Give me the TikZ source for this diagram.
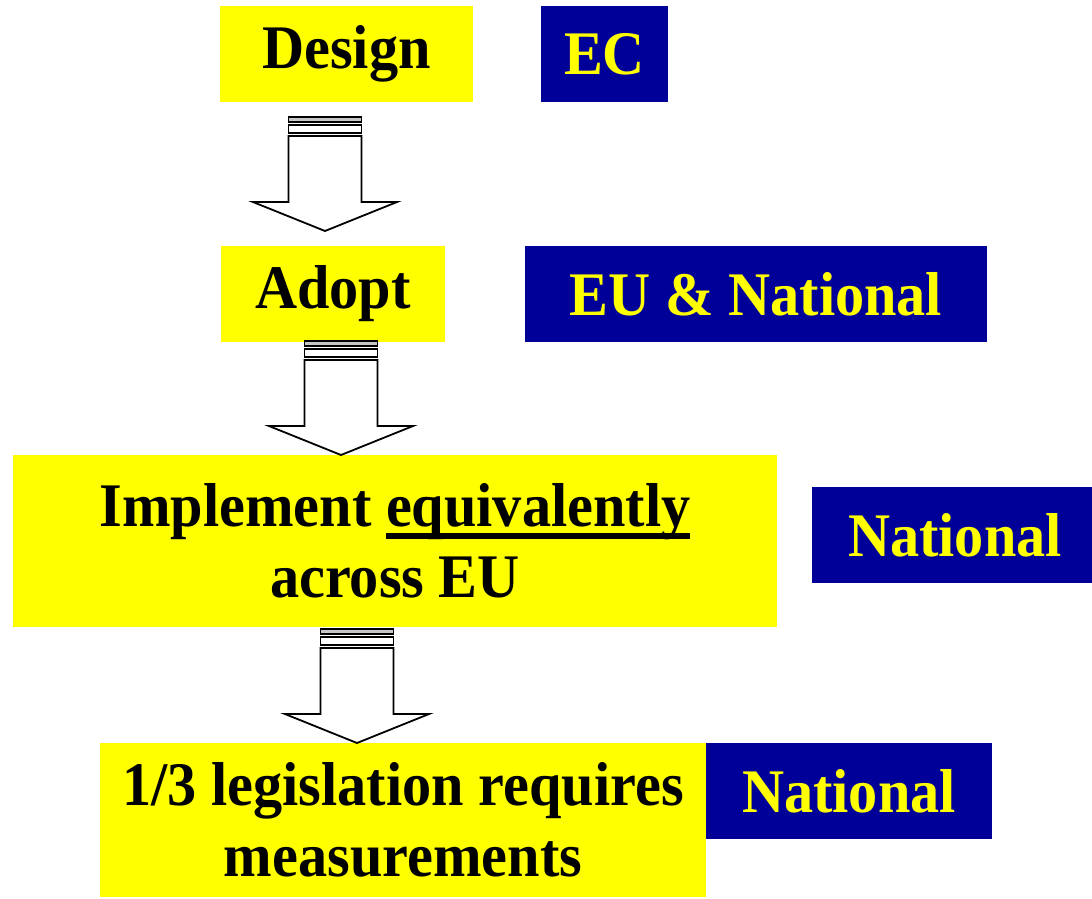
\documentclass[tikz,border=0pt]{standalone}
\usepackage{fontspec}
\newfontfamily\tnr{Liberation Serif}[FakeStretch=0.94,BoldFeatures={FakeStretch=0.94}]
\definecolor{ecblue}{HTML}{000099}
\definecolor{ecyellow}{HTML}{FFFF00}
\newcommand\myul[1]{\setbox0\hbox{#1}\rlap{\rule[-12pt]{\wd0}{6pt}}\box0}
\tikzset{
  txt/.style={font=\tnr\bfseries\fontsize{62}{71}\selectfont, inner sep=0pt, align=center},
  ybox/.style={txt, fill=ecyellow, text=black},
  bbox/.style={txt, fill=ecblue, text=ecyellow},
  pics/blockarrow/.style={code={
    \draw[line width=1.8pt, fill=white, line join=miter]
      (-36.5,-95) -- (-36.5,-29) -- (-72,-29) -- (0,0) -- (72,-29) -- (36.5,-29) -- (36.5,-95) -- cycle;
    \draw[line width=1.4pt, fill=white] (-36.5,-106) rectangle (36.5,-98);
    \draw[line width=1.4pt, fill=gray!45] (-36.5,-114) rectangle (36.5,-109);
  }}
}
\begin{document}
\begin{tikzpicture}[x=1pt,y=-1pt]
\useasboundingbox[fill=white] (0,0) rectangle (1092,898);
% yellow boxes
\node[ybox, minimum width=253pt, minimum height=96pt] (design) at (346.5,54) {Design};
\node[ybox, minimum width=224pt, minimum height=96pt] (adopt) at (333,294) {Adopt};
\node[ybox, minimum width=764pt, minimum height=172pt] (impl) at (395,541) {Implement \myul{equivalently}\\across EU};
\node[ybox, minimum width=606pt, minimum height=154pt] (legis) at (403,820) {1/3 legislation requires\\measurements};
% blue boxes
\node[bbox, minimum width=127pt, minimum height=96pt] (ec) at (604.5,54) {EC};
\node[bbox, minimum width=462pt, minimum height=96pt] (eunat) at (756,294) {EU \& National};
\node[bbox, minimum width=286pt, minimum height=96pt] (nat1) at (955,535) {National};
\node[bbox, minimum width=286pt, minimum height=96pt] (nat2) at (849,791) {National};
% block arrows
\coordinate (tip1) at (325,231);
\coordinate (tip2) at (341,455);
\coordinate (tip3) at (357,743);
\pic at (tip1) {blockarrow};
\pic at (tip2) {blockarrow};
\pic at (tip3) {blockarrow};
\end{tikzpicture}
\end{document}
